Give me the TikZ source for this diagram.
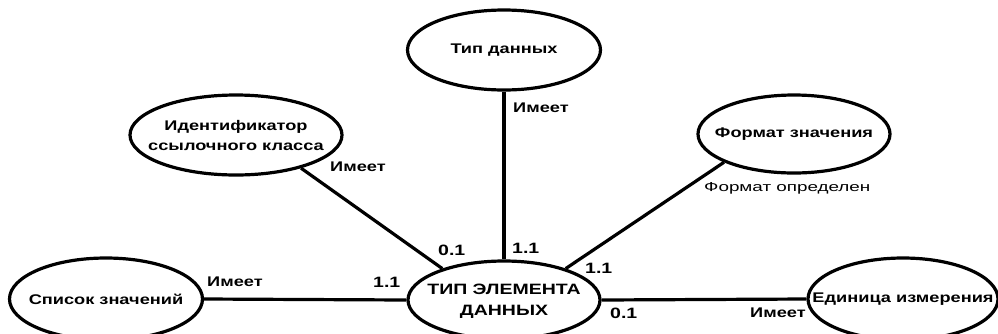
\documentclass[tikz,border=0pt]{standalone}
\usepackage{fontspec}
\setmainfont{Liberation Sans}
\newfontfamily\lbl[FakeStretch=1.3]{Liberation Sans}
\newfontfamily\lblw[FakeStretch=1.45]{Liberation Sans}
\usetikzlibrary{shapes.geometric}
\tikzset{
  ent/.style={draw, ellipse, line width=3.2pt, inner sep=0pt},
  etxt/.style={inner sep=0pt, align=center, font=\lbl\bfseries\fontsize{14}{20}\selectfont},
  conn/.style={line width=3.2pt},
  card/.style={inner sep=0pt, anchor=west, font=\lbl\bfseries\fontsize{15}{17}\selectfont},
  rel/.style={inner sep=0pt, anchor=west, font=\lbl\bfseries\fontsize{14}{16}\selectfont},
}
\begin{document}
\begin{tikzpicture}[x=1pt,y=-1pt]
\useasboundingbox (0,0) rectangle (998,333);
\node[ent, minimum width=193pt, minimum height=80pt] (td) at (504,50) {};
\node[ent, minimum width=212pt, minimum height=80pt] (id) at (236,135) {};
\node[ent, minimum width=192pt, minimum height=78pt] (fv) at (794,134) {};
\node[ent, minimum width=193pt, minimum height=82pt] (sz) at (106,299) {};
\node[ent, minimum width=192pt, minimum height=78pt] (main) at (504,300) {};
\node[ent, minimum width=190pt, minimum height=82pt] (ei) at (903,299) {};

\node[etxt] (tdt) at (td.center) {Тип данных};
\node[etxt] (idt) at (id.center) {Идентификатор\\ссылочного класса};
\node[etxt] (fvt) at (fv.center) {Формат значения};
\node[etxt] (szt) at (sz.center) {Список значений};
\node[etxt, font=\lbl\bfseries\fontsize{15}{21}\selectfont] (maint) at ([yshift=-1pt]main.center) {ТИП ЭЛЕМЕНТА\\ДАННЫХ};
\node[etxt] (eit) at (ei.center) {Единица измерения};

\draw[conn] (td.south) -- (main.north);
\draw[conn] (id.-27) -- (main.153);
\draw[conn] (fv.-158) -- (main.27);
\draw[conn] (sz.east) -- (main.west);
\draw[conn] (main.east) -- (ei.west);

\node[rel] (r1) at (513,108) {Имеет};
\node[rel] (r2) at (330,167) {Имеет};
\node[rel, font=\lblw\fontsize{13}{15}\selectfont] (r3) at (704,188) {Формат определен};
\node[rel] (r4) at (207,282) {Имеет};
\node[rel] (r5) at (750,313) {Имеет};
\node[card] (c1) at (438,250) {0.1};
\node[card] (c2) at (512,248) {1.1};
\node[card] (c3) at (585,268) {1.1};
\node[card] (c4) at (373,282) {1.1};
\node[card] (c5) at (610,313) {0.1};
\end{tikzpicture}
\end{document}
